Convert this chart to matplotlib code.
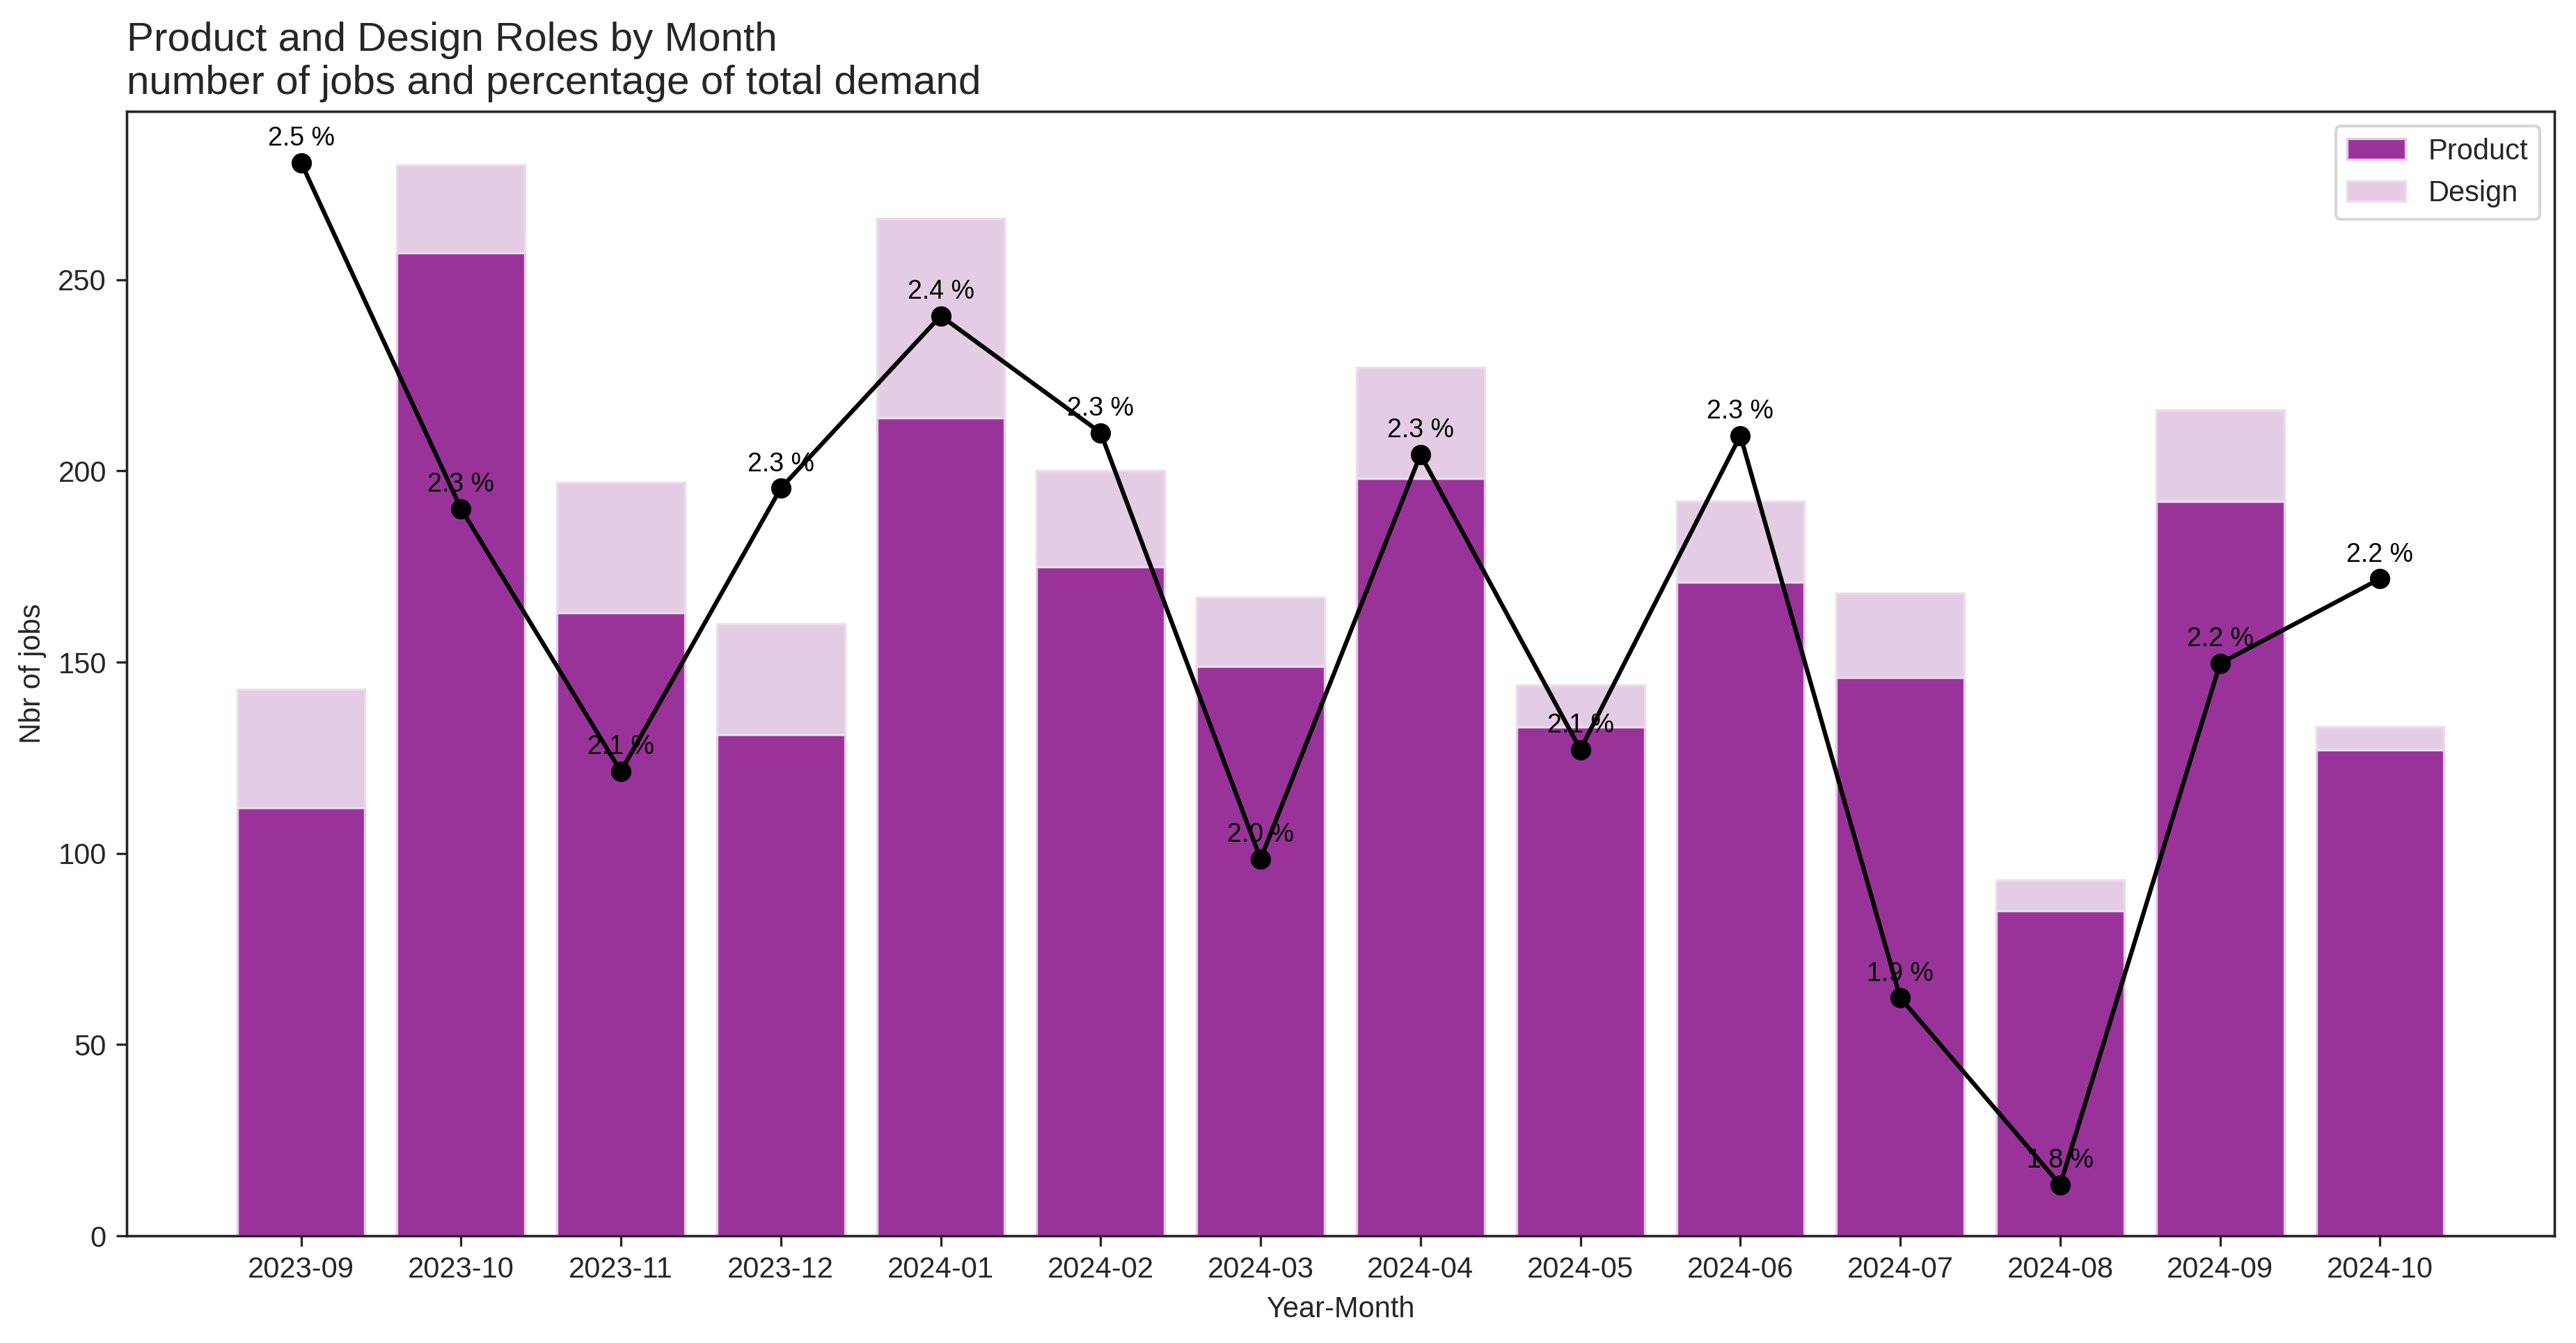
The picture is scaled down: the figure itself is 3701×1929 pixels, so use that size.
import matplotlib
matplotlib.use("Agg")
import matplotlib.pyplot as plt
import seaborn as sns
import numpy as np

months = ["2023-09", "2023-10", "2023-11", "2023-12", "2024-01", "2024-02", "2024-03",
          "2024-04", "2024-05", "2024-06", "2024-07", "2024-08", "2024-09", "2024-10"]
product = [112, 257, 163, 131, 214, 175, 149, 198, 133, 171, 146, 85, 192, 127]
total = [143, 280, 197, 160, 266, 200, 167, 227, 144, 192, 168, 93, 216, 133]
design = [t - p for t, p in zip(total, product)]
pct = [2.50, 2.263, 2.083, 2.277, 2.395, 2.315, 2.023, 2.30, 2.098, 2.313, 1.928, 1.80, 2.157, 2.215]

sns.set_style("ticks")
plt.rcParams['font.family'] = ['Liberation Sans', 'DejaVu Sans']

PURPLE = "#993399"
LIGHT = "#e5cce5"

fig = plt.figure(figsize=(3701 / 300, 1929 / 300), dpi=300)
ax = fig.add_axes([0.0492, 0.0798, 0.9424, 0.8372])

x = np.arange(len(months))
ax.bar(x, product, width=0.8, color=PURPLE, edgecolor=LIGHT, linewidth=0.8, label="Product")
ax.bar(x, design, width=0.8, bottom=product, color=LIGHT, edgecolor="#eddbed", linewidth=0.8, label="Design")
ax.set_xticks(x)
ax.set_xticklabels(months)
ax.tick_params(labelsize=10)
ax.set_ylabel("Nbr of jobs", fontsize=10)
ax.set_xlabel("Year-Month", fontsize=10)
ax.set_title("Product and Design Roles by Month\nnumber of jobs and percentage of total demand",
             loc="left", fontsize=14)
ax.legend(loc="upper right", fontsize=10)

ax2 = ax.twinx()
ax2.plot(x, pct, color="black", marker="o", linewidth=1.5, markersize=6)
for xi, p in zip(x, pct):
    ax2.annotate(f"{p:.1f} %", (xi, p), xytext=(0, 4), textcoords="offset points",
                 ha="center", va="bottom", fontsize=9, color="black")
ax2.set_yticks([])

fig.savefig("out.png", dpi=300)
